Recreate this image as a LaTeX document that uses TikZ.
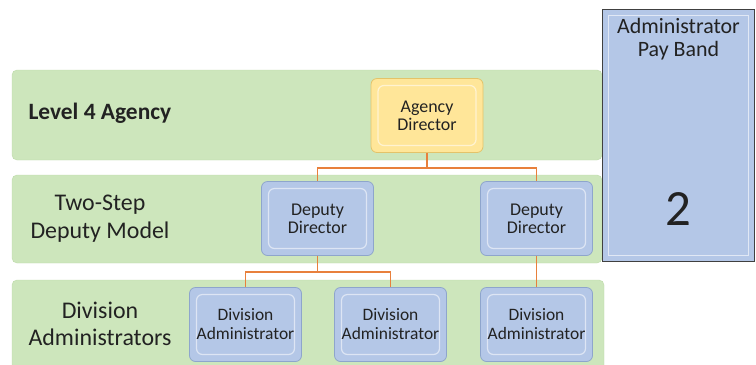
\documentclass[tikz,border=0pt]{standalone}
\usepackage{fontspec}
\setmainfont{Carlito}
\usetikzlibrary{positioning,calc}
\definecolor{bandgreen}{HTML}{CDE6BC}
\definecolor{bandedge}{HTML}{BCD9A8}
\definecolor{boxblue}{HTML}{B4C7E7}
\definecolor{boxedge}{HTML}{8EA5CC}
\definecolor{boxyellow}{HTML}{FFE699}
\definecolor{yellowedge}{HTML}{E3C36A}
\definecolor{linkorange}{HTML}{E8803C}
\definecolor{inktext}{HTML}{222222}
\begin{document}
\begin{tikzpicture}[x=1bp,y=-1bp]
\tikzstyle{band}=[fill=bandgreen,draw=bandedge,rounded corners=5bp]
\tikzstyle{bevel}=[rectangle,rounded corners=6bp,line width=0.8pt,
minimum width=112bp,minimum height=74bp,inner sep=0pt,align=center,
text=inktext,font=\fontsize{18}{18}\selectfont,
path picture={\draw[white,opacity=0.55,line width=1.2pt]
([shift={(7bp,-7bp)}]path picture bounding box.north west) rectangle
([shift={(-7bp,7bp)}]path picture bounding box.south east);}]
\tikzstyle{person}=[bevel,fill=boxblue,draw=boxedge]
\tikzstyle{head}=[bevel,fill=boxyellow,draw=yellowedge]
\tikzstyle{label}=[align=center,text=inktext,font=\fontsize{24}{27.5}\selectfont]
\tikzstyle{link}=[draw=linkorange,line width=1.6pt]
\path[use as bounding box] (0,0) rectangle (756,364);
\clip (0,0) rectangle (756,364);

\path[band] (12,70) rectangle (602,160);
\path[band] (12,175) rectangle (602,263);
\path[band] (12,280) rectangle (604,372);

\node[draw=black!75,line width=1.2pt,fill=boxblue,minimum width=152bp,minimum height=252bp,
path picture={\draw[white,opacity=0.6,line width=1.5pt]
([shift={(6bp,-6bp)}]path picture bounding box.north west) rectangle
([shift={(-6bp,6bp)}]path picture bounding box.south east);}]
at (678.5,135.5) (payband) {};
\node[label,font=\fontsize{22}{23}\selectfont] at (678.5,39) (paytitle) {Administrator\\Pay Band};
\node[label,font=\fontsize{51}{51}\selectfont] at (678.5,209) (paylevel) {2};

\node[label,anchor=west,font=\bfseries\fontsize{23.5}{22}\selectfont] at (25,113) (lvl) {Level 4 Agency};
\node[label,font=\fontsize{24}{28}\selectfont] at (100,218.5) (twostep) {Two-Step\\Deputy Model};
\node[label,font=\fontsize{24}{27}\selectfont] at (100,324) (divlabel) {Division\\Administrators};

\node[head] at (427,115.5) (agency) {Agency\\Director};
\node[person] at (317.5,218.5) (depL) {Deputy\\Director};
\node[person,right of =depL,node distance=219bp] (depR) {Deputy\\Director};
\node[person,font=\fontsize{17.5}{19}\selectfont] at (245.5,324.5) (divA) {Division\\Administrator};
\node[person,font=\fontsize{17.5}{19}\selectfont,right of =divA,node distance=145bp] (divB) {Division\\Administrator};
\node[person,font=\fontsize{17.5}{19}\selectfont,below of =depR,node distance=106bp] (divC) {Division\\Administrator};

\draw[link] (agency.south) -- ++(0,15) -| (depL.north);
\draw[link] (agency.south) -- ++(0,15) -| (depR.north);
\draw[link] (depL.south) -- ++(0,16) -| (divA.north);
\draw[link] (depL.south) -- ++(0,16) -| (divB.north);
\draw[link] (depR) -- (divC);

\end{tikzpicture}
\end{document}
